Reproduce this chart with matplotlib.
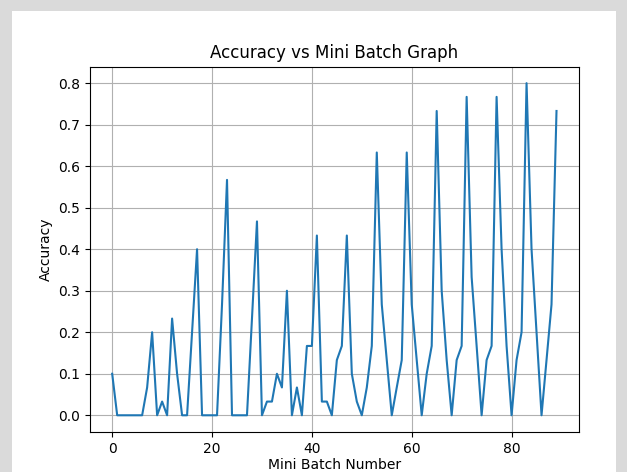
import matplotlib
matplotlib.use('Agg')
import matplotlib.pyplot as plt
from matplotlib.patches import Rectangle

# accuracy per mini batch
batch_accuracy = [
    0.1, 0.0, 0.0, 0.0, 0.0, 0.0, 0.0, 0.067, 0.2, 0.0,
    0.033, 0.0, 0.233, 0.1, 0.0, 0.0, 0.2, 0.4, 0.0, 0.0,
    0.0, 0.0, 0.267, 0.567, 0.0, 0.0, 0.0, 0.0, 0.233, 0.467,
    0.0, 0.033, 0.033, 0.1, 0.067, 0.3, 0.0, 0.067, 0.0, 0.167,
    0.167, 0.433, 0.033, 0.033, 0.0, 0.133, 0.167, 0.433, 0.1, 0.033,
    0.0, 0.067, 0.167, 0.633, 0.267, 0.133, 0.0, 0.067, 0.133, 0.633,
    0.267, 0.133, 0.0, 0.1, 0.167, 0.733, 0.3, 0.133, 0.0, 0.133,
    0.167, 0.767, 0.333, 0.167, 0.0, 0.133, 0.167, 0.767, 0.4, 0.167,
    0.0, 0.133, 0.2, 0.8, 0.4, 0.2, 0.0, 0.133, 0.267, 0.733,
]
batch_number = list(range(len(batch_accuracy)))

fig = plt.figure(figsize=(6.27, 4.72), dpi=100)
# the reference is a screenshot: white figure sitting on a grey page
fig.patch.set_facecolor('#dadada')
fig.patches.append(Rectangle((12 / 627, 0), 604 / 627, 1 - 11 / 472,
                             transform=fig.transFigure, facecolor='white',
                             edgecolor='none', zorder=-1))
fig.subplots_adjust(left=0.1435, right=0.923, bottom=0.085, top=0.859)

plt.plot(batch_number, batch_accuracy)
plt.title('Accuracy vs Mini Batch Graph')
plt.xlabel('Mini Batch Number', labelpad=2)
plt.ylabel('Accuracy')
plt.grid(True)

plt.savefig('out.png', dpi=100, facecolor=fig.get_facecolor())
